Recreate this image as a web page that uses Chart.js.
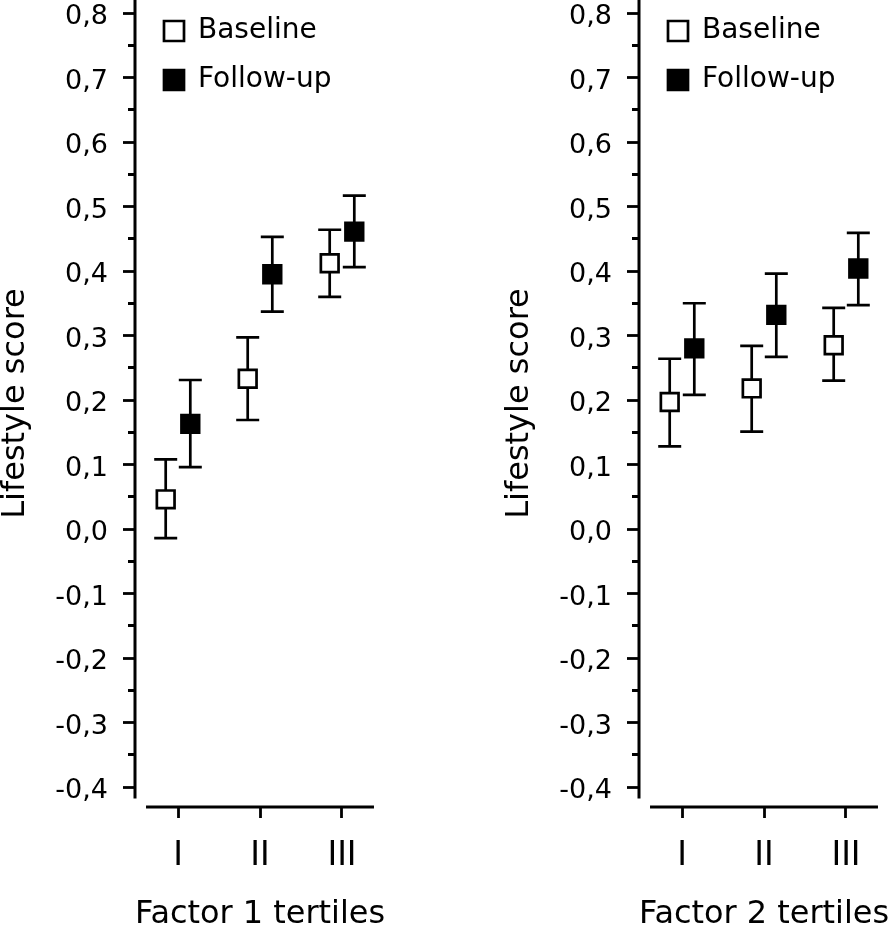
<!DOCTYPE html>
<html>
<head>
<meta charset="utf-8">
<script src="https://cdn.jsdelivr.net/npm/chart.js@4.4.1/dist/chart.umd.min.js"></script>
<style>
  html, body { margin: 0; padding: 0; background: #fff; }
  body { width: 894px; height: 929px; position: relative; overflow: hidden; }
  canvas { position: absolute; top: 0; }
  #factor1 { left: 0; }
  #factor2 { left: 504px; }
</style>
</head>
<body>
<canvas id="factor1" width="390" height="929"></canvas>
<canvas id="factor2" width="390" height="929"></canvas>
<script>
// categories
const tertiles = ['I', 'II', 'III'];
const seriesNames = ['Baseline', 'Follow-up'];

// Factor 1 tertiles: mean and error bar ends
const f1Baseline   = [0.046, 0.233, 0.412];
const f1BaselineLo = [-0.014, 0.169, 0.360];
const f1BaselineHi = [0.108, 0.297, 0.464];
const f1Followup   = [0.163, 0.395, 0.461];
const f1FollowupLo = [0.096, 0.337, 0.406];
const f1FollowupHi = [0.231, 0.453, 0.517];

// Factor 2 tertiles
const f2Baseline   = [0.197, 0.218, 0.285];
const f2BaselineLo = [0.128, 0.151, 0.230];
const f2BaselineHi = [0.264, 0.284, 0.343];
const f2Followup   = [0.280, 0.332, 0.404];
const f2FollowupLo = [0.208, 0.267, 0.347];
const f2FollowupHi = [0.350, 0.396, 0.459];

// axis ranges
const yMin = -0.431, yMax = 0.8202, yStep = 0.05;
const xMin = 0.4756, xMax = 3.5244;
const dodge = 0.15;

Chart.defaults.font.family = "'DejaVu Sans', sans-serif";
Chart.defaults.color = '#000';

const errorBars = {
  id: 'errorBars',
  beforeDatasetsDraw(chart) {
    const { ctx, scales: { y } } = chart;
    ctx.save();
    ctx.strokeStyle = '#000';
    ctx.lineWidth = 2.7;
    chart.data.datasets.forEach((ds, i) => {
      chart.getDatasetMeta(i).data.forEach((pt, k) => {
        const top = y.getPixelForValue(ds.hi[k]);
        const bot = y.getPixelForValue(ds.lo[k]);
        ctx.beginPath();
        ctx.moveTo(pt.x, top); ctx.lineTo(pt.x, bot);
        ctx.moveTo(pt.x - 11.5, top); ctx.lineTo(pt.x + 11.5, top);
        ctx.moveTo(pt.x - 11.5, bot); ctx.lineTo(pt.x + 11.5, bot);
        ctx.stroke();
      });
    });
    ctx.restore();
  }
};

// y and x axis lines do not meet in the original, so they are drawn here
const detachedAxes = {
  id: 'detachedAxes',
  beforeDatasetsDraw(chart, args, opts) {
    const { ctx, chartArea, scales: { x, y } } = chart;
    ctx.save();
    ctx.strokeStyle = '#000';
    ctx.lineWidth = 3;
    ctx.beginPath();
    ctx.moveTo(chartArea.left, chartArea.top);
    ctx.lineTo(chartArea.left, y.getPixelForValue(opts.yEnd));
    ctx.moveTo(x.getPixelForValue(opts.xFrom), chartArea.bottom);
    ctx.lineTo(x.getPixelForValue(opts.xTo), chartArea.bottom);
    ctx.stroke();
    ctx.restore();
  }
};

const legendNudge = {
  id: 'legendNudge',
  afterLayout(chart) {
    chart.legend.left += 8;
    chart.legend.top -= 4;
  }
};

function isMinor(v) {
  return Math.abs(Math.round(v / yStep)) % 2 === 1;
}

function makeChart(id, xTitle, base, baseLo, baseHi, follow, followLo, followHi) {
  return new Chart(document.getElementById(id), {
    type: 'scatter',
    data: {
      datasets: [{
        label: seriesNames[0],
        data: base.map((v, k) => ({ x: k + 1 - dodge, y: v })),
        lo: baseLo, hi: baseHi,
        backgroundColor: '#fff',
        borderColor: '#000',
        borderWidth: 2.4,
        pointStyle: 'rect',
        pointRadius: 12.5,
        pointBackgroundColor: '#fff',
        pointBorderColor: '#000',
        pointBorderWidth: 2.7
      }, {
        label: seriesNames[1],
        data: follow.map((v, k) => ({ x: k + 1 + dodge, y: v })),
        lo: followLo, hi: followHi,
        backgroundColor: '#000',
        borderColor: '#000',
        borderWidth: 2.4,
        pointStyle: 'rect',
        pointRadius: 12.5,
        pointBackgroundColor: '#000',
        pointBorderColor: '#000',
        pointBorderWidth: 2.7
      }]
    },
    options: {
      responsive: false,
      devicePixelRatio: 1,
      animation: false,
      events: [],
      layout: { autoPadding: false, padding: { left: 0, top: 0, right: 5, bottom: 0 } },
      scales: {
        x: {
          type: 'linear',
          min: xMin,
          max: xMax,
          border: { display: false },
          grid: { drawOnChartArea: false, tickLength: 11, tickWidth: 2.8, tickColor: '#000' },
          ticks: {
            stepSize: 1,
            includeBounds: false,
            padding: 19,
            font: { size: 33 },
            color: '#000',
            callback: v => tertiles[v - 1] || ''
          },
          title: { display: true, text: xTitle, font: { size: 32, lineHeight: 0.9 }, padding: 0, color: '#000' },
          afterFit: s => { s.height = 122; s.paddingLeft = 0; s.paddingRight = 0; }
        },
        y: {
          min: yMin,
          max: yMax,
          border: { display: false },
          grid: {
            drawOnChartArea: false,
            tickLength: 12,
            tickWidth: 2.8,
            tickColor: '#000',
            tickBorderDash: ctx => (ctx.tick && isMinor(ctx.tick.value)) ? [0, 5, 7, 40] : []
          },
          ticks: {
            stepSize: yStep,
            includeBounds: false,
            autoSkip: false,
            padding: 15,
            labelOffset: 4,
            font: { size: 27 },
            color: '#000',
            callback: v => isMinor(v) ? '' : v.toFixed(1).replace('.', ',')
          },
          title: { display: true, text: 'Lifestyle score', font: { size: 32, lineHeight: 1 }, padding: 0, color: '#000' },
          afterFit: s => { s.width = 135; s.paddingTop = 0; s.paddingBottom = 0; }
        }
      },
      plugins: {
        legend: {
          position: 'chartArea',
          align: 'start',
          labels: {
            boxWidth: 20,
            boxHeight: 20,
            padding: 21,
            color: '#000',
            font: { size: 28 }
          }
        },
        tooltip: { enabled: false },
        detachedAxes: { yEnd: -0.418, xFrom: 0.61, xTo: 3.39 }
      }
    },
    plugins: [detachedAxes, errorBars, legendNudge]
  });
}

makeChart('factor1', 'Factor 1 tertiles', f1Baseline, f1BaselineLo, f1BaselineHi, f1Followup, f1FollowupLo, f1FollowupHi);
makeChart('factor2', 'Factor 2 tertiles', f2Baseline, f2BaselineLo, f2BaselineHi, f2Followup, f2FollowupLo, f2FollowupHi);
</script>
</body>
</html>
